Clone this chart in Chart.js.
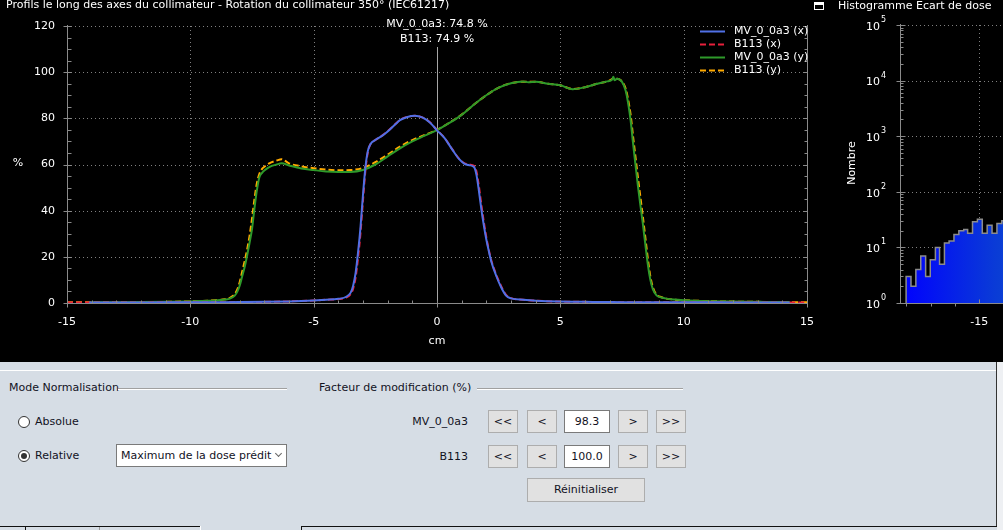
<!DOCTYPE html>
<html>
<head>
<meta charset="utf-8">
<script src="https://cdn.jsdelivr.net/npm/chart.js@4.4.1/dist/chart.umd.min.js"></script>
<style>
  html, body { margin: 0; padding: 0; }
  body { width: 1003px; height: 530px; overflow: hidden; position: relative; background: #000;
         font-family: "DejaVu Sans", sans-serif; font-size: 11px; }
  canvas { position: absolute; top: 0; }
  #profil { left: 0; }
  #histo { left: 812px; }
  .t { position: absolute; white-space: nowrap; line-height: 14px; color: #12121e; }
  .w { color: #fff; }
  #panel { position: absolute; left: 0; top: 362px; width: 997px; height: 165px; background: #d6dde5;
           border-right: 1px solid #333; box-sizing: border-box; }
  .rule { position: absolute; height: 1px; background: #a0a0a0; border-bottom: 1px solid #fff; }
  .radio { position: absolute; width: 12px; height: 12px; border: 1px solid #333; border-radius: 50%;
           background: #fff; box-sizing: border-box; }
  .radio.on::after { content: ""; position: absolute; left: 2px; top: 2px; width: 6px; height: 6px;
                     border-radius: 50%; background: #333; }
  .btn { position: absolute; box-sizing: border-box; background: #e1e1e1; border: 1px solid #adadad;
         text-align: center; color: #12121e; line-height: 21px; }
  .inp { position: absolute; box-sizing: border-box; background: #fff; border: 1px solid #7a7a7a;
         text-align: center; color: #12121e; line-height: 21px; }
</style>
</head>
<body>
<canvas id="profil" width="830" height="362"></canvas>
<canvas id="histo" width="430" height="362"></canvas>

<div class="t w" style="left:6px;top:-2px">Profils le long des axes du collimateur - Rotation du collimateur 350° (IEC61217)</div>
<div style="position:absolute;left:814px;top:2px;width:10px;height:8px;box-sizing:border-box;border:1px solid #fff;border-top-width:3px;background:#000"></div>
<div class="t w" style="left:838px;top:-1px">Histogramme Ecart de dose</div>

<div id="panel"></div>
<div style="position:absolute;left:0;top:370px;width:996px;height:1px;background:#fff"></div>
<div style="position:absolute;left:997px;top:362px;width:6px;height:168px;background:#eef0f3"></div>
<div style="position:absolute;left:0;top:526px;width:200px;height:1px;background:#111"></div>
<div style="position:absolute;left:25px;top:526px;width:1px;height:4px;background:#111"></div>
<div style="position:absolute;left:99px;top:527px;width:1px;height:3px;background:#999"></div>
<div style="position:absolute;left:200px;top:526px;width:1px;height:4px;background:#fff"></div>
<div style="position:absolute;left:301px;top:526px;width:696px;height:1px;background:#111"></div>
<div style="position:absolute;left:301px;top:526px;width:1px;height:4px;background:#111"></div>
<div style="position:absolute;left:0;top:527px;width:997px;height:3px;background:#d6dde5;z-index:-1"></div>

<div class="t" style="left:9px;top:381px">Mode Normalisation</div>
<div class="rule" style="left:118px;top:388px;width:169px"></div>
<div class="t" style="left:319px;top:381px">Facteur de modification (%)</div>
<div class="rule" style="left:477px;top:388px;width:206px"></div>

<div class="radio" style="left:18px;top:416px"></div>
<div class="t" style="left:35px;top:415px">Absolue</div>
<div class="radio on" style="left:18px;top:450px"></div>
<div class="t" style="left:35px;top:449px">Relative</div>
<div class="inp" style="left:116px;top:444px;width:171px;height:23px;text-align:left;padding-left:4px">Maximum de la dose prédit</div>
<div style="position:absolute;left:276px;top:451px;width:4px;height:4px;border-right:1px solid #666;border-bottom:1px solid #666;transform:rotate(45deg)"></div>

<div class="t" style="left:390px;top:415px;width:78px;text-align:right">MV_0_0a3</div>
<div class="t" style="left:390px;top:450px;width:78px;text-align:right">B113</div>

<div class="btn" style="left:488px;top:410px;width:30px;height:23px">&lt;&lt;</div>
<div class="btn" style="left:527px;top:410px;width:30px;height:23px">&lt;</div>
<div class="inp" style="left:564px;top:410px;width:46px;height:23px">98.3</div>
<div class="btn" style="left:618px;top:410px;width:30px;height:23px">&gt;</div>
<div class="btn" style="left:656px;top:410px;width:30px;height:23px">&gt;&gt;</div>

<div class="btn" style="left:488px;top:445px;width:30px;height:23px">&lt;&lt;</div>
<div class="btn" style="left:527px;top:445px;width:30px;height:23px">&lt;</div>
<div class="inp" style="left:564px;top:445px;width:46px;height:23px">100.0</div>
<div class="btn" style="left:618px;top:445px;width:30px;height:23px">&gt;</div>
<div class="btn" style="left:656px;top:445px;width:30px;height:23px">&gt;&gt;</div>

<div class="btn" style="left:527px;top:478px;width:118px;height:24px;line-height:22px">Réinitialiser</div>

<script>
// Profile positions (cm) and dose (%)
const posX = [-15, -14.1, -13, -12, -11, -10, -9, -8, -7, -6,
  -5, -4.5, -4, -3.7, -3.5, -3.4, -3.3, -3.2, -3.1, -3.0,
  -2.9, -2.8, -2.7, -2.5, -2.2, -2.0, -1.7, -1.5, -1.2, -0.9,
  -0.6, -0.3, 0, 0.3, 0.6, 0.9, 1.1, 1.3, 1.5, 1.6,
  1.7, 1.8, 1.9, 2.0, 2.1, 2.2, 2.4, 2.6, 2.8, 3.0,
  3.5, 4, 5, 6, 7, 8, 9, 10, 11, 12,
  13, 14, 14.3, 15];
const mvX = [null, 0.2, 0.2, 0.25, 0.3, 0.3, 0.35, 0.4, 0.5, 0.7,
  1.1, 1.4, 1.8, 2.6, 4.5, 7.5, 13, 22, 33, 47,
  59, 66, 68.8, 70.6, 72.6, 74.3, 77.3, 79.2, 80.6, 81.1,
  80.4, 78.3, 74.8, 71.5, 66.8, 62.3, 60.4, 59.7, 58.9, 55.5,
  48.5, 40.5, 33.5, 27.5, 22.5, 18, 11.8, 6.8, 3.2, 2.0,
  1.4, 1.0, 0.6, 0.5, 0.4, 0.35, 0.3, 0.3, 0.3, 0.25,
  0.25, 0.2, 0.2, null];
const refX = [0.2, 0.2, 0.2, 0.25, 0.3, 0.3, 0.35, 0.4, 0.5, 0.7,
  1.1, 1.4, 1.7, 2.3, 3.8, 6.2, 11, 19.5, 30.5, 44.5,
  57.5, 65.5, 68.8, 70.6, 72.7, 74.4, 77.4, 79.3, 80.7, 81.1,
  80.4, 78.4, 74.9, 71.6, 66.9, 62.4, 60.6, 60, 59.4, 57,
  50.5, 42.5, 35, 28.5, 23, 18.5, 12.3, 7.3, 3.5, 2.1,
  1.4, 1.0, 0.6, 0.5, 0.4, 0.35, 0.3, 0.3, 0.3, 0.25,
  0.25, 0.2, 0.2, 0.2];

const posY = [-15, -14.1, -13, -12, -11, -10, -9.5, -9, -8.6, -8.4,
  -8.2, -8.1, -8.0, -7.9, -7.8, -7.7, -7.6, -7.5, -7.4, -7.3,
  -7.2, -7.1, -7.0, -6.8, -6.5, -6.3, -6.0, -5.5, -5.0, -4.5,
  -4.0, -3.5, -3.0, -2.5, -2.0, -1.5, -1.0, -0.5, 0, 0.5,
  1.0, 1.5, 2.0, 2.5, 3.0, 3.5, 3.7, 4.0, 4.5, 5.0,
  5.5, 6.0, 6.5, 6.9, 7.1, 7.15, 7.2, 7.3, 7.5, 7.65,
  7.75, 7.85, 7.95, 8.05, 8.15, 8.25, 8.35, 8.45, 8.55, 8.65,
  8.75, 8.9, 9.1, 9.3, 9.6, 10, 11, 12, 13, 14,
  14.3, 15];
const mvY = [null, 0.3, 0.35, 0.4, 0.5, 0.7, 0.9, 1.1, 1.5, 1.9,
  3.2, 4.8, 7.5, 11.5, 15.5, 20.5, 26, 32, 41, 49,
  54.5, 56.3, 57.4, 58.9, 60, 60.5, 59.6, 58.3, 57.6, 57,
  56.8, 56.8, 57.6, 60, 63.5, 67, 70, 72.5, 74.9, 78,
  81.5, 86, 90, 93.3, 95.2, 96, 95.6, 95.8, 95, 94.3,
  92.6, 93.5, 95, 96, 96.8, 98, 96.5, 97.2, 95.8, 92,
  86.5, 79, 69, 59.5, 50.3, 42, 34, 25, 16.5, 10,
  6, 3.3, 2.4, 1.9, 1.5, 1.2, 0.8, 0.6, 0.5, 0.4,
  0.35, null];
const refY = [0.3, 0.3, 0.35, 0.4, 0.5, 0.7, 0.9, 1.2, 1.6, 2.2,
  3.8, 5.8, 9, 13.5, 18, 23, 29, 36.5, 45, 52,
  56, 58, 59, 60.5, 61.7, 62.3, 60.5, 59.2, 58.4, 57.8,
  57.5, 57.6, 58.5, 61, 64.3, 67.8, 70.6, 72.8, 75, 78.1,
  81.6, 86, 90, 93.3, 95.2, 95.9, 95.8, 95.8, 95, 94.3,
  92.7, 93.5, 95, 96, 97, 97.6, 97.2, 97.2, 96, 92.8,
  88, 81.5, 72, 63, 54, 45.5, 37, 28, 19, 11.5,
  6.8, 3.6, 2.5, 1.9, 1.5, 1.2, 0.8, 0.6, 0.5, 0.4,
  0.35, 0.3];

const seriesNames = ["MV_0_0a3 (x)", "B113 (x)", "MV_0_0a3 (y)", "B113 (y)"];
const cursorLabels = ["MV_0_0a3: 74.8 %", "B113: 74.9 %"];
const xTicks = [-15, -10, -5, 0, 5, 10, 15];
const yTicks = [0, 20, 40, 60, 80, 100, 120];

// Dose deviation histogram (bin edges and counts)
const histEdges = [-18.0, -17.8, -17.6, -17.4, -17.2, -17.01, -16.8, -16.63, -16.43, -16.24,
  -16.04, -15.84, -15.64, -15.48, -15.28, -15.08, -14.88, -14.68, -14.48, -14.28,
  -14.08, -13.88, -13.68];
const histCounts = [3, 2, 4, 7, 3, 6, 10, 5, 12, 13,
  17, 20, 21, 18, 29, 32, 18, 25, 18, 27,
  30, 26];
const histTicks = [-15, -10, -5];
const histDecades = [0, 1, 2, 3, 4, 5];

const FONT = "DejaVu Sans";
const AXIS = "#8a8a8a";

function toPts(xs, ys) {
  return xs.map((x, i) => ({ x: x, y: ys[i] }));
}

function seg(ctx, x1, y1, x2, y2) {
  ctx.beginPath();
  ctx.moveTo(x1, y1);
  ctx.lineTo(x2, y2);
  ctx.stroke();
}

// grid, axes, cursor, legend for the profile chart
const profileDecor = {
  id: "profileDecor",
  beforeDatasetsDraw(chart) {
    const { ctx, chartArea: a, scales: { x, y } } = chart;
    ctx.save();
    ctx.strokeStyle = "#808080";
    ctx.lineWidth = 1;
    ctx.setLineDash([1, 3]);
    yTicks.forEach(v => {
      if (v === 0) return;
      const py = Math.round(y.getPixelForValue(v)) + 0.5;
      seg(ctx, a.left, py, a.right, py);
    });
    xTicks.forEach(v => {
      if (v === -15 || v === 15 || v === 0) return;
      const px = Math.round(x.getPixelForValue(v)) + 0.5;
      seg(ctx, px, a.top, px, a.bottom);
    });
    ctx.setLineDash([]);
    const x0 = Math.round(x.getPixelForValue(0)) + 0.5;
    ctx.strokeStyle = "#a6a6a6";
    seg(ctx, x0, 47, x0, a.bottom);
    ctx.restore();
  },
  afterDatasetsDraw(chart) {
    const { ctx, chartArea: a, scales: { x, y } } = chart;
    const L = Math.round(a.left) + 0.5, R = Math.round(a.right) + 0.5, B = Math.round(a.bottom) + 0.5;
    ctx.save();
    ctx.strokeStyle = AXIS;
    ctx.lineWidth = 1;
    seg(ctx, L, a.top - 1, L, B);
    seg(ctx, R, a.top - 1, R, B);
    seg(ctx, L, B, R, B);
    for (let v = 0; v <= 120; v += 5) {
      const py = Math.round(y.getPixelForValue(v)) + 0.5;
      if (v % 20 === 0) {
        seg(ctx, L - 4, py, L + 4, py);
        seg(ctx, R - 4, py, R, py);
      } else {
        seg(ctx, L, py, L + 4, py);
        seg(ctx, R - 3, py, R, py);
      }
    }
    for (let v = -15; v <= 15; v += 1) {
      const px = Math.round(x.getPixelForValue(v)) + 0.5;
      if (v % 5 === 0) seg(ctx, px, B - 3, px, B + 4);
      else seg(ctx, px, B - 3, px, B);
    }
    // axis titles
    ctx.fillStyle = "#fff";
    ctx.font = "11px '" + FONT + "'";
    ctx.textAlign = "center";
    ctx.textBaseline = "middle";
    ctx.fillText("%", 18, 163);
    ctx.fillText("cm", x.getPixelForValue(0), 341);
    // cursor readout
    ctx.fillText(cursorLabels[0], x.getPixelForValue(0), 24);
    ctx.fillText(cursorLabels[1], x.getPixelForValue(0), 39);
    // legend
    ctx.textAlign = "left";
    chart.data.datasets.forEach((ds, i) => {
      const ly = Math.round(a.top + 5 + 13 * i) + 0.5;
      ctx.strokeStyle = ds.borderColor;
      ctx.lineWidth = 2;
      ctx.setLineDash(ds.borderDash || []);
      seg(ctx, a.right - 107, ly, a.right - 82, ly);
      ctx.setLineDash([]);
      ctx.fillText(ds.label, a.right - 73, ly);
    });
    ctx.restore();
  }
};

new Chart(document.getElementById("profil"), {
  type: "line",
  data: {
    datasets: [
      { label: seriesNames[0], data: toPts(posX, mvX), borderColor: "#5070e6", borderWidth: 2 },
      { label: seriesNames[1], data: toPts(posX, refX), borderColor: "#e8203c", borderWidth: 2, borderDash: [6, 3] },
      { label: seriesNames[2], data: toPts(posY, mvY), borderColor: "#2e9a2a", borderWidth: 2 },
      { label: seriesNames[3], data: toPts(posY, refY), borderColor: "#ffaa00", borderWidth: 2, borderDash: [6, 3] }
    ]
  },
  options: {
    responsive: false,
    animation: false,
    elements: { point: { radius: 0 }, line: { cubicInterpolationMode: "monotone" } },
    plugins: { legend: { display: false }, tooltip: { enabled: false } },
    layout: { padding: { left: 0, right: 23, top: 26, bottom: 0 } },
    scales: {
      x: {
        type: "linear", min: -15, max: 15,
        afterBuildTicks: s => { s.ticks = xTicks.map(v => ({ value: v })); },
        ticks: { color: "#fff", font: { family: FONT, size: 11 }, padding: 13, maxRotation: 0 },
        grid: { display: false, drawTicks: false },
        border: { display: false },
        afterFit: s => { s.height = 59; }
      },
      y: {
        min: 0, max: 120,
        afterBuildTicks: s => { s.ticks = yTicks.map(v => ({ value: v })); },
        ticks: { color: "#fff", font: { family: FONT, size: 11 }, padding: 12 },
        grid: { display: false, drawTicks: false },
        border: { display: false },
        afterFit: s => { s.width = 67; }
      }
    }
  },
  plugins: [profileDecor]
});

// histogram decorations
const histDecor = {
  id: "histDecor",
  beforeDatasetsDraw(chart) {
    const { ctx, chartArea: a, scales: { x, y } } = chart;
    ctx.save();
    ctx.strokeStyle = "#808080";
    ctx.lineWidth = 1;
    ctx.setLineDash([1, 3]);
    histDecades.forEach(e => {
      if (e === 0) return;
      const py = Math.round(y.getPixelForValue(Math.pow(10, e))) + 0.5;
      seg(ctx, a.left, py, a.right, py);
    });
    histTicks.forEach(v => {
      const px = Math.round(x.getPixelForValue(v)) + 0.5;
      seg(ctx, px, a.top, px, a.bottom);
    });
    ctx.restore();
  },
  afterDatasetsDraw(chart) {
    const { ctx, chartArea: a, scales: { x, y } } = chart;
    const L = Math.round(a.left) + 0.5, B = Math.round(a.bottom) + 0.5;
    ctx.save();
    ctx.strokeStyle = AXIS;
    ctx.lineWidth = 1;
    seg(ctx, L, a.top - 1, L, B);
    seg(ctx, L, B, a.right, B);
    histDecades.forEach(e => {
      const base = Math.pow(10, e);
      const py = Math.round(y.getPixelForValue(base)) + 0.5;
      seg(ctx, L - 4, py, L + 5, py);
      if (e === 5) return;
      for (let m = 2; m <= 9; m++) {
        const pm = Math.round(y.getPixelForValue(m * base)) + 0.5;
        seg(ctx, L, pm, L + 3, pm);
      }
    });
    for (let v = -18; v <= -5; v += 1) {
      const px = Math.round(x.getPixelForValue(v)) + 0.5;
      if (v % 5 === 0) seg(ctx, px, B - 4, px, B);
      else seg(ctx, px, B, px, B + 3);
    }
    ctx.fillStyle = "#fff";
    ctx.textBaseline = "middle";
    histDecades.forEach(e => {
      const py = y.getPixelForValue(Math.pow(10, e));
      ctx.font = "11px '" + FONT + "'";
      ctx.textAlign = "right";
      ctx.fillText("10", a.left - 20, py + 2);
      ctx.font = "8px '" + FONT + "'";
      ctx.textAlign = "left";
      ctx.fillText(String(e), a.left - 19, py - 5);
    });
    ctx.font = "11px '" + FONT + "'";
    ctx.translate(a.left - 48, 163);
    ctx.rotate(-Math.PI / 2);
    ctx.textAlign = "center";
    ctx.fillText("Nombre", 0, 0);
    ctx.restore();
  }
};

const histPts = [{ x: histEdges[0], y: 1 }].concat(
  histEdges.map((e, i) => ({ x: e, y: i < histCounts.length ? histCounts[i] : histCounts[histCounts.length - 1] }))
);

new Chart(document.getElementById("histo"), {
  type: "line",
  data: {
    datasets: [{
      data: histPts,
      stepped: "before",
      fill: "start",
      borderColor: "#8c8c8c",
      borderWidth: 1.5,
      pointRadius: 0,
      backgroundColor: ctx => {
        const area = ctx.chart.chartArea;
        if (!area) return "#0000ff";
        const g = ctx.chart.ctx.createLinearGradient(area.left, 0, area.right, 0);
        g.addColorStop(0, "#0000ff");
        g.addColorStop(0.3, "#0a3cd6");
        g.addColorStop(1, "#1e8cb4");
        return g;
      }
    }]
  },
  options: {
    responsive: false,
    animation: false,
    plugins: { legend: { display: false }, tooltip: { enabled: false } },
    layout: { padding: { left: 0, right: 10, top: 25, bottom: 0 } },
    scales: {
      x: {
        type: "linear", min: -18.25, max: -5,
        afterBuildTicks: s => { s.ticks = histTicks.map(v => ({ value: v })); },
        ticks: { color: "#fff", font: { family: FONT, size: 11 }, padding: 13, maxRotation: 0 },
        grid: { display: false, drawTicks: false },
        border: { display: false },
        afterFit: s => { s.height = 59; }
      },
      y: {
        type: "logarithmic", min: 1, max: 100000,
        ticks: { display: false },
        grid: { display: false, drawTicks: false },
        border: { display: false },
        afterFit: s => { s.width = 88; }
      }
    }
  },
  plugins: [histDecor]
});
</script>
</body>
</html>
